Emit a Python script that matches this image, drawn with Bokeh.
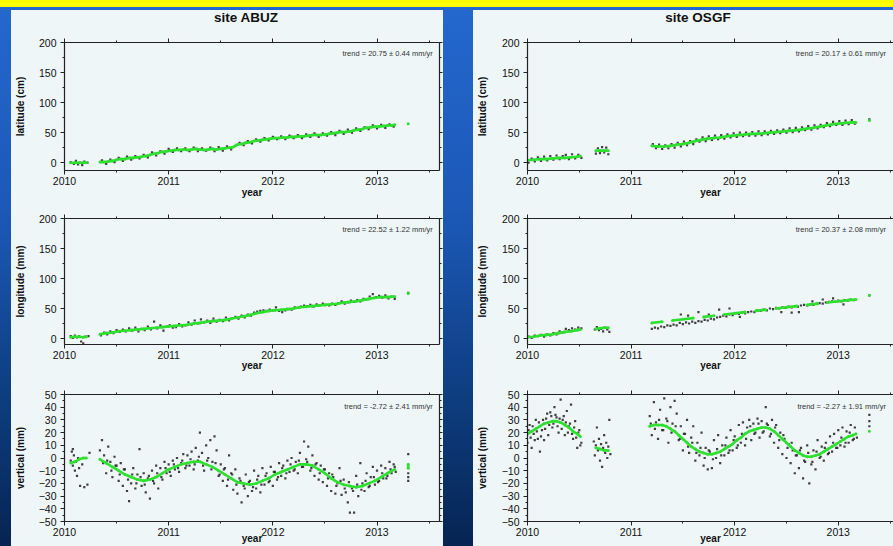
from bokeh.plotting import figure
from bokeh.layouts import column, row
from bokeh.models import Spacer, Label, LinearAxis, SingleIntervalTicker, Range1d, Div
from bokeh.embed import file_html
from bokeh.resources import INLINE

# ---------------- data (decimal year, value) ----------------
sites = ["site ABUZ", "site OSGF"]
trend_texts = {
    ("ABUZ", "lat"): "trend = 20.75 \u00b1 0.44 mm/yr",
    ("ABUZ", "lon"): "trend = 22.52 \u00b1 1.22 mm/yr",
    ("ABUZ", "up"): "trend = -2.72 \u00b1 2.41 mm/yr",
    ("OSGF", "lat"): "trend = 20.17 \u00b1 0.61 mm/yr",
    ("OSGF", "lon"): "trend = 20.37 \u00b1 2.08 mm/yr",
    ("OSGF", "up"): "trend = -2.27 \u00b1 1.91 mm/yr",
}

# ABUZ latitude (cm)
abuz_lat_fit_t = [2010.06, 2010.10, 2010.14, 2010.18, 2010.21,
    2010.34, 2010.38, 2010.42, 2010.46, 2010.50, 2010.54, 2010.58, 2010.62, 2010.66, 2010.70, 2010.74, 2010.78,
    2010.82, 2010.86, 2010.90, 2010.94, 2010.98, 2011.02, 2011.06, 2011.10, 2011.14, 2011.18, 2011.22, 2011.26,
    2011.30, 2011.34, 2011.38, 2011.42, 2011.46, 2011.50, 2011.54, 2011.58, 2011.62, 2011.66, 2011.70, 2011.74,
    2011.78, 2011.82, 2011.86, 2011.90, 2011.94, 2011.98, 2012.02, 2012.06, 2012.10, 2012.14, 2012.18, 2012.22,
    2012.26, 2012.30, 2012.34, 2012.38, 2012.42, 2012.46, 2012.50, 2012.54, 2012.58, 2012.62, 2012.66, 2012.70,
    2012.74, 2012.78, 2012.82, 2012.86, 2012.90, 2012.94, 2012.98, 2013.02, 2013.06, 2013.10, 2013.14, 2013.17,
    2013.30]
abuz_lat_fit_y = [0, 0, 0, 0, 0,
    1, 1, 2, 3, 5, 6, 6, 8, 8, 9, 10, 11,
    13, 15, 16, 18, 19, 20, 21, 21, 22, 21, 22, 23,
    22, 21, 22, 23, 22, 23, 24, 25, 26, 30, 31, 33,
    34, 36, 37, 38, 39, 40, 41, 41, 42, 42, 43, 43,
    44, 44, 45, 46, 46, 46, 47, 48, 49, 50, 51, 51,
    52, 54, 55, 56, 58, 59, 60, 60, 61, 62, 62, 63,
    65]
abuz_lat_obs_t = [2010.06, 2010.09, 2010.11, 2010.13, 2010.15, 2010.17, 2010.19, 2010.22,
    2010.36, 2010.40, 2010.44, 2010.48, 2010.52, 2010.56, 2010.60, 2010.64, 2010.68, 2010.72, 2010.76, 2010.80,
    2010.84, 2010.88, 2010.92, 2010.96, 2011.00, 2011.04, 2011.08, 2011.12, 2011.16, 2011.20, 2011.24, 2011.28,
    2011.32, 2011.36, 2011.40, 2011.44, 2011.48, 2011.52, 2011.56, 2011.60, 2011.64, 2011.68, 2011.72, 2011.76,
    2011.80, 2011.84, 2011.88, 2011.92, 2011.96, 2012.00, 2012.04, 2012.08, 2012.12, 2012.16, 2012.20, 2012.24,
    2012.28, 2012.32, 2012.36, 2012.40, 2012.44, 2012.48, 2012.52, 2012.56, 2012.60, 2012.64, 2012.68, 2012.72,
    2012.76, 2012.80, 2012.84, 2012.88, 2012.92, 2012.96, 2013.00, 2013.04, 2013.08, 2013.12, 2013.16]
abuz_lat_obs_y = [1, -2, 3, -3, 0, -4, 2, 0,
    4, -2, 5, 1, 8, 3, 10, 5, 11, 7, 13, 9,
    17, 12, 19, 15, 23, 18, 24, 19, 24, 19, 25, 19,
    24, 20, 25, 19, 26, 20, 27, 22, 28, 33, 29, 36,
    32, 39, 35, 41, 37, 43, 39, 44, 39, 45, 41, 46,
    41, 47, 43, 49, 43, 49, 45, 51, 46, 53, 48, 55,
    50, 57, 53, 59, 56, 62, 57, 63, 58, 64, 60]

# ABUZ longitude (mm)
abuz_lon_fit_t = [2010.06, 2010.10, 2010.14, 2010.18, 2010.21,
    2010.34, 2010.40, 2010.46, 2010.52, 2010.58, 2010.64, 2010.70, 2010.76, 2010.82, 2010.88, 2010.94, 2011.00,
    2011.06, 2011.12, 2011.18, 2011.24, 2011.30, 2011.36, 2011.42, 2011.48, 2011.54, 2011.60, 2011.66, 2011.72,
    2011.78, 2011.84, 2011.90, 2011.96, 2012.02, 2012.08, 2012.14, 2012.20, 2012.26, 2012.32, 2012.38, 2012.44,
    2012.50, 2012.56, 2012.62, 2012.68, 2012.74, 2012.80, 2012.86, 2012.92, 2012.98, 2013.04, 2013.10, 2013.17,
    2013.30]
abuz_lon_fit_y = [2, 3, 3, 2, 3,
    7, 9, 10, 12, 13, 14, 15, 16, 17, 18, 19, 20,
    21, 22, 23, 25, 26, 28, 29, 30, 31, 33, 35, 37,
    39, 42, 44, 46, 47, 48, 49, 50, 52, 53, 54, 55,
    56, 57, 58, 60, 61, 62, 64, 66, 68, 69, 69, 70,
    75]
abuz_lon_obs_t = [2010.06, 2010.08, 2010.10, 2010.12, 2010.14, 2010.16, 2010.18, 2010.20, 2010.23,
    2010.35, 2010.38, 2010.41, 2010.44, 2010.47, 2010.50, 2010.53, 2010.56, 2010.59, 2010.62, 2010.65, 2010.68,
    2010.71, 2010.74, 2010.77, 2010.80, 2010.83, 2010.86, 2010.89, 2010.92, 2010.95, 2010.98, 2011.01, 2011.04,
    2011.07, 2011.10, 2011.13, 2011.16, 2011.19, 2011.22, 2011.25, 2011.28, 2011.31, 2011.34, 2011.37, 2011.40,
    2011.43, 2011.46, 2011.49, 2011.52, 2011.55, 2011.58, 2011.61, 2011.64, 2011.67, 2011.70, 2011.73, 2011.76,
    2011.79, 2011.82, 2011.85, 2011.88, 2011.91, 2011.94, 2011.97, 2012.00, 2012.03, 2012.06, 2012.09, 2012.12,
    2012.15, 2012.18, 2012.21, 2012.24, 2012.27, 2012.30, 2012.33, 2012.36, 2012.39, 2012.42, 2012.45, 2012.48,
    2012.51, 2012.54, 2012.57, 2012.60, 2012.63, 2012.66, 2012.69, 2012.72, 2012.75, 2012.78, 2012.81, 2012.84,
    2012.87, 2012.90, 2012.93, 2012.96, 2012.99, 2013.02, 2013.05, 2013.08, 2013.11, 2013.14, 2013.17, 2013.30]
abuz_lon_obs_y = [4, 1, 5, 2, 4, -5, -8, 3, 4,
    5, 10, 7, 12, 9, 14, 11, 15, 12, 17, 13, 18,
    12, 16, 14, 20, 15, 28, 17, 22, 13, 20, 22, 18,
    19, 24, 20, 22, 27, 23, 30, 25, 32, 27, 30, 26,
    33, 28, 31, 29, 35, 30, 34, 36, 33, 38, 35, 40,
    38, 43, 45, 46, 47, 46, 48, 47, 52, 46, 44, 47,
    49, 48, 52, 51, 53, 55, 54, 56, 53, 57, 55, 58,
    56, 55, 58, 56, 59, 62, 58, 60, 63, 61, 64, 62,
    66, 65, 70, 74, 69, 71, 68, 72, 67, 70, 66, 76]

# ABUZ vertical (mm)
abuz_up_fit_t = [2010.06, 2010.10, 2010.14, 2010.18, 2010.21,
    2010.34, 2010.40, 2010.46, 2010.52, 2010.58, 2010.64, 2010.70, 2010.76, 2010.82, 2010.88, 2010.94, 2011.00,
    2011.06, 2011.12, 2011.18, 2011.24, 2011.30, 2011.36, 2011.42, 2011.48, 2011.54, 2011.60, 2011.66, 2011.72,
    2011.78, 2011.84, 2011.90, 2011.96, 2012.02, 2012.08, 2012.14, 2012.20, 2012.26, 2012.32, 2012.38, 2012.44,
    2012.50, 2012.56, 2012.62, 2012.68, 2012.74, 2012.80, 2012.86, 2012.92, 2012.98, 2013.04, 2013.10, 2013.17,
    2013.30, 2013.30]
abuz_up_fit_y = [-4, -3, -1, 0, 0,
    -1, -4, -7, -10, -13, -15, -17, -18, -17, -15, -12, -9,
    -7, -5, -4, -3, -3, -5, -7, -10, -13, -16, -19, -20,
    -21, -20, -18, -16, -13, -11, -9, -7, -5, -5, -6, -9,
    -12, -16, -19, -21, -22, -23, -22, -20, -18, -15, -12, -9,
    -5, -8]
abuz_up_obs_t = [2010.06, 2010.07, 2010.08, 2010.08, 2010.09, 2010.10, 2010.11, 2010.12, 2010.13, 2010.14,
    2010.15, 2010.17, 2010.19, 2010.22, 2010.24,
    2010.34, 2010.36, 2010.38, 2010.40, 2010.42, 2010.44, 2010.46, 2010.48, 2010.50, 2010.52, 2010.54, 2010.56,
    2010.58, 2010.60, 2010.62, 2010.64, 2010.66, 2010.68, 2010.70, 2010.72, 2010.74, 2010.76, 2010.78, 2010.80,
    2010.82, 2010.84, 2010.86, 2010.88, 2010.90, 2010.92, 2010.94, 2010.96, 2010.98, 2011.00, 2011.02, 2011.04,
    2011.06, 2011.08, 2011.10, 2011.12, 2011.14, 2011.16, 2011.18, 2011.20, 2011.22, 2011.24, 2011.26, 2011.28,
    2011.30, 2011.32, 2011.34, 2011.36, 2011.38, 2011.40, 2011.42, 2011.44, 2011.46, 2011.48, 2011.50, 2011.52,
    2011.54, 2011.56, 2011.58, 2011.60, 2011.62, 2011.64, 2011.66, 2011.68, 2011.70, 2011.72, 2011.74, 2011.76,
    2011.78, 2011.80, 2011.82, 2011.84, 2011.86, 2011.88, 2011.90, 2011.92, 2011.94, 2011.96, 2011.98, 2012.00,
    2012.02, 2012.04, 2012.06, 2012.08, 2012.10, 2012.12, 2012.14, 2012.16, 2012.18, 2012.20, 2012.22, 2012.24,
    2012.26, 2012.28, 2012.30, 2012.32, 2012.34, 2012.36, 2012.38, 2012.40, 2012.42, 2012.44, 2012.46, 2012.48,
    2012.50, 2012.52, 2012.54, 2012.56, 2012.58, 2012.60, 2012.62, 2012.64, 2012.66, 2012.68, 2012.70, 2012.72,
    2012.74, 2012.76, 2012.78, 2012.80, 2012.82, 2012.84, 2012.86, 2012.88, 2012.90, 2012.92, 2012.94, 2012.96,
    2012.98, 2013.00, 2013.02, 2013.04, 2013.06, 2013.08, 2013.10, 2013.12, 2013.14, 2013.16, 2013.18,
    2010.37, 2010.41, 2010.45, 2010.49, 2010.53, 2010.57, 2010.61, 2010.65, 2010.69, 2010.73, 2010.77, 2010.81,
    2010.85, 2010.89, 2010.93, 2010.97, 2011.01, 2011.05, 2011.09, 2011.13, 2011.17, 2011.21, 2011.25, 2011.29,
    2011.33, 2011.37, 2011.41, 2011.45, 2011.49, 2011.53, 2011.57, 2011.61, 2011.65, 2011.69, 2011.73, 2011.77,
    2011.81, 2011.85, 2011.89, 2011.93, 2011.97, 2012.01, 2012.05, 2012.09, 2012.13, 2012.17, 2012.21, 2012.25,
    2012.29, 2012.33, 2012.37, 2012.41, 2012.45, 2012.49, 2012.53, 2012.57, 2012.61, 2012.65, 2012.69, 2012.73,
    2012.77, 2012.81, 2012.85, 2012.89, 2012.93, 2012.97, 2013.01, 2013.05, 2013.09, 2013.13, 2013.17,
    2013.30, 2013.30, 2013.30, 2013.30]
abuz_up_obs_y = [-2, 5, -6, 7, 2, -10, -3, -14, 0, -8,
    -22, -5, -23, -21, 4,
    6, 14, 2, -12, 9, -3, -15, 1, -6, -18, -4, -22,
    -9, -26, -34, -20, -8, -24, -13, 7, -22, -12, -27, -16,
    -32, -10, -20, -6, -24, -8, -17, -3, -12, -5, -14, -2,
    -9, 0, -11, -4, 3, -8, 2, -6, 5, -9, 8, -2,
    20, 4, -10, 10, 0, 14, -3, 17, 6, -14, -5, -18,
    -8, -22, 2, -12, -25, -9, -28, -16, -35, -22, -13, -30,
    -18, -26, -10, -24, -14, -27, -8, -21, -12, -19, -7, -22,
    -11, -17, -4, -14, -6, -16, -2, -11, 0, -10, -3, -12,
    4, -7, 13, -1, 9, -10, 2, -14, -4, -17, -6, -19,
    -9, -22, -12, -26, -15, -28, -20, -8, -29, -17, -27, -35,
    -43, -24, -43, -14, -30, -4, -20, -26, -12, -23, -15, -7,
    -21, -10, -18, -6, -16, -8, -14, -3, -12, -5, -11,
    -4, -2, -10, -6, -13, -9, -17, -13, -20, -15, -21, -14,
    -18, -12, -15, -8, -11, -5, -8, -2, -6, -1, -5, 1,
    -6, -2, -9, -4, -13, -9, -17, -13, -21, -18, -24, -19,
    -23, -17, -21, -14, -18, -11, -15, -8, -12, -5, -9, -2,
    -7, -3, -8, -5, -12, -9, -16, -13, -22, -18, -24, -19,
    -26, -21, -25, -18, -22, -15, -19, -12, -16, -9, -7,
    3, -12, -18, -15]

# OSGF latitude (cm)
osgf_lat_fit_t = [2010.00, 2010.06, 2010.12, 2010.18, 2010.24, 2010.30, 2010.36, 2010.42, 2010.48, 2010.51,
    2010.66, 2010.70, 2010.74, 2010.78,
    2011.20, 2011.26, 2011.32, 2011.38, 2011.44, 2011.50, 2011.56, 2011.62, 2011.68, 2011.74, 2011.80, 2011.86,
    2011.92, 2011.98, 2012.04, 2012.10, 2012.16, 2012.22, 2012.28, 2012.34, 2012.40, 2012.46, 2012.52, 2012.58,
    2012.64, 2012.70, 2012.76, 2012.82, 2012.88, 2012.94, 2013.00, 2013.06, 2013.12, 2013.17,
    2013.30]
osgf_lat_fit_y = [4, 5, 6, 6, 7, 8, 8, 9, 10, 11,
    20, 20, 20, 20,
    28, 27, 27, 28, 30, 31, 33, 36, 38, 40, 41, 42,
    44, 45, 46, 47, 48, 48, 49, 50, 51, 52, 53, 54,
    55, 57, 58, 60, 62, 64, 65, 66, 67, 67,
    70]
osgf_lat_obs_t = [2010.01, 2010.04, 2010.07, 2010.10, 2010.13, 2010.16, 2010.19, 2010.22, 2010.25, 2010.28,
    2010.31, 2010.34, 2010.37, 2010.40, 2010.43, 2010.46, 2010.49, 2010.52,
    2010.66, 2010.68, 2010.70, 2010.72, 2010.74, 2010.76, 2010.78,
    2011.21, 2011.24, 2011.27, 2011.30, 2011.33, 2011.36, 2011.39, 2011.42, 2011.45, 2011.48, 2011.51, 2011.54,
    2011.57, 2011.60, 2011.63, 2011.66, 2011.69, 2011.72, 2011.75, 2011.78, 2011.81, 2011.84, 2011.87, 2011.90,
    2011.93, 2011.96, 2011.99, 2012.02, 2012.05, 2012.08, 2012.11, 2012.14, 2012.17, 2012.20, 2012.23, 2012.26,
    2012.29, 2012.32, 2012.35, 2012.38, 2012.41, 2012.44, 2012.47, 2012.50, 2012.53, 2012.56, 2012.59, 2012.62,
    2012.65, 2012.68, 2012.71, 2012.74, 2012.77, 2012.80, 2012.83, 2012.86, 2012.89, 2012.92, 2012.95, 2012.98,
    2013.01, 2013.04, 2013.07, 2013.10, 2013.13, 2013.16, 2013.30]
osgf_lat_obs_y = [0, 7, 2, 9, 3, 10, 4, 11, 5, 12,
    6, 11, 13, 6, 14, 7, 13, 8,
    15, 24, 16, 26, 17, 25, 14,
    31, 24, 30, 23, 29, 24, 31, 25, 33, 27, 35, 29,
    36, 31, 39, 35, 42, 36, 44, 38, 45, 39, 46, 40,
    47, 42, 49, 43, 50, 44, 50, 45, 51, 45, 52, 46,
    52, 47, 53, 48, 54, 49, 55, 50, 57, 51, 58, 52,
    59, 54, 61, 55, 62, 57, 63, 59, 66, 61, 68, 63,
    69, 63, 70, 64, 71, 65, 72]

# OSGF longitude (mm)
osgf_lon_fit_t = [2010.00, 2010.06, 2010.12, 2010.18, 2010.24, 2010.30, 2010.36, 2010.42, 2010.48, 2010.51,
    2010.66, 2010.70, 2010.74, 2010.78,
    2011.20, 2011.30, 2011.40, 2011.50, 2011.60, 2011.70, 2011.80, 2011.90, 2012.00, 2012.10, 2012.20, 2012.30,
    2012.40, 2012.50, 2012.60, 2012.70, 2012.80, 2012.90, 2013.00, 2013.10, 2013.17,
    2013.30]
osgf_lon_fit_y = [2, 3, 5, 6, 7, 9, 11, 12, 14, 15,
    16, 17, 18, 18,
    26, 28, 30, 32, 34, 36, 38, 40, 42, 44, 46, 48,
    50, 52, 54, 56, 58, 60, 62, 64, 65,
    72]
osgf_lon_obs_t = [2010.01, 2010.04, 2010.07, 2010.10, 2010.13, 2010.16, 2010.19, 2010.22, 2010.25, 2010.28,
    2010.31, 2010.34, 2010.37, 2010.40, 2010.43, 2010.46, 2010.49, 2010.52,
    2010.65, 2010.67, 2010.69, 2010.71, 2010.73, 2010.75, 2010.77, 2010.79,
    2011.20, 2011.23, 2011.26, 2011.29, 2011.32, 2011.35, 2011.38, 2011.41, 2011.44, 2011.47, 2011.50, 2011.53,
    2011.56, 2011.59, 2011.62, 2011.65, 2011.68, 2011.71, 2011.74, 2011.77, 2011.80, 2011.83, 2011.86, 2011.89,
    2011.92, 2011.95, 2011.98, 2012.01, 2012.04, 2012.07, 2012.10, 2012.13, 2012.16, 2012.19, 2012.22, 2012.25,
    2012.28, 2012.31, 2012.34, 2012.37, 2012.40, 2012.43, 2012.46, 2012.49, 2012.52, 2012.55, 2012.58, 2012.61,
    2012.64, 2012.67, 2012.70, 2012.73, 2012.76, 2012.79, 2012.82, 2012.85, 2012.88, 2012.91, 2012.94, 2012.97,
    2013.00, 2013.03, 2013.06, 2013.09, 2013.12, 2013.15,
    2011.48, 2011.55, 2011.65, 2011.75, 2011.85, 2011.95, 2012.05, 2012.45, 2012.55, 2012.62, 2012.75, 2012.85,
    2012.95, 2013.05, 2013.30]
osgf_lon_obs_y = [3, 1, 5, 4, 6, 3, 7, 5, 9, 7,
    12, 10, 16, 14, 17, 15, 18, 17,
    15, 19, 14, 16, 12, 18, 15, 11,
    16, 18, 17, 20, 19, 22, 21, 23, 22, 26, 24, 27,
    25, 28, 26, 29, 28, 31, 30, 33, 32, 35, 36, 38,
    37, 40, 39, 42, 41, 43, 42, 44, 45, 44, 47, 46,
    48, 47, 50, 49, 51, 50, 52, 51, 53, 52, 54, 53,
    55, 56, 55, 57, 56, 58, 59, 58, 60, 61, 62, 61,
    63, 62, 64, 63, 65, 64,
    40, 38, 44, 40, 48, 50, 36, 44, 43, 44, 62, 65,
    67, 57, 72]

# OSGF vertical (mm)
osgf_up_fit_t = [2010.00, 2010.04, 2010.08, 2010.12, 2010.16, 2010.20, 2010.24, 2010.28, 2010.32, 2010.36,
    2010.40, 2010.44, 2010.48, 2010.51,
    2010.66, 2010.70, 2010.74, 2010.78,
    2011.18, 2011.22, 2011.26, 2011.30, 2011.34, 2011.38, 2011.42, 2011.46, 2011.50, 2011.54, 2011.58, 2011.62,
    2011.66, 2011.70, 2011.74, 2011.78, 2011.82, 2011.86, 2011.90, 2011.94, 2011.98, 2012.02, 2012.06, 2012.10,
    2012.14, 2012.18, 2012.22, 2012.26, 2012.30, 2012.34, 2012.38, 2012.42, 2012.46, 2012.50, 2012.54, 2012.58,
    2012.62, 2012.66, 2012.70, 2012.74, 2012.78, 2012.82, 2012.86, 2012.90, 2012.94, 2012.98, 2013.02, 2013.06,
    2013.10, 2013.14, 2013.17,
    2013.30]
osgf_up_fit_y = [19, 21, 23, 25, 27, 28, 29, 29, 28, 26,
    24, 21, 19, 17,
    8, 7, 6, 6,
    25, 26, 26, 26, 25, 23, 21, 18, 15, 12, 9, 7,
    5, 4, 3, 3, 4, 5, 7, 9, 11, 14, 16, 19,
    21, 22, 23, 24, 24, 23, 21, 18, 15, 12, 9, 6,
    4, 2, 1, 1, 2, 3, 5, 7, 9, 11, 13, 15,
    17, 18, 19,
    21]
osgf_up_obs_t = [2010.00, 2010.02, 2010.04, 2010.06, 2010.08, 2010.10, 2010.12, 2010.14, 2010.16, 2010.18,
    2010.20, 2010.22, 2010.24, 2010.26, 2010.28, 2010.30, 2010.32, 2010.34, 2010.36, 2010.38, 2010.40, 2010.42,
    2010.44, 2010.46, 2010.48, 2010.50, 2010.52,
    2010.01, 2010.03, 2010.05, 2010.07, 2010.09, 2010.11, 2010.13, 2010.15, 2010.17, 2010.19, 2010.21, 2010.23,
    2010.25, 2010.27, 2010.29, 2010.31, 2010.33, 2010.35, 2010.37, 2010.39, 2010.41, 2010.43, 2010.45, 2010.47,
    2010.49, 2010.51,
    2010.64, 2010.65, 2010.66, 2010.67, 2010.68, 2010.69, 2010.70, 2010.71, 2010.72, 2010.73, 2010.74, 2010.75,
    2010.76, 2010.77, 2010.78, 2010.79, 2010.80,
    2011.18, 2011.20, 2011.22, 2011.24, 2011.26, 2011.28, 2011.30, 2011.32, 2011.34, 2011.36, 2011.38, 2011.40,
    2011.42, 2011.44, 2011.46, 2011.48, 2011.50, 2011.52, 2011.54, 2011.56, 2011.58, 2011.60, 2011.62, 2011.64,
    2011.66, 2011.68, 2011.70, 2011.72, 2011.74, 2011.76, 2011.78, 2011.80, 2011.82, 2011.84, 2011.86, 2011.88,
    2011.90, 2011.92, 2011.94, 2011.96, 2011.98, 2012.00, 2012.02, 2012.04, 2012.06, 2012.08, 2012.10, 2012.12,
    2012.14, 2012.16, 2012.18, 2012.20, 2012.22, 2012.24, 2012.26, 2012.28, 2012.30, 2012.32, 2012.34, 2012.36,
    2012.38, 2012.40, 2012.42, 2012.44, 2012.46, 2012.48, 2012.50, 2012.52, 2012.54, 2012.56, 2012.58, 2012.60,
    2012.62, 2012.64, 2012.66, 2012.68, 2012.70, 2012.72, 2012.74, 2012.76, 2012.78, 2012.80, 2012.82, 2012.84,
    2012.86, 2012.88, 2012.90, 2012.92, 2012.94, 2012.96, 2012.98, 2013.00, 2013.02, 2013.04, 2013.06, 2013.08,
    2013.10, 2013.12, 2013.14, 2013.16, 2013.18,
    2011.19, 2011.23, 2011.27, 2011.31, 2011.35, 2011.39, 2011.43, 2011.47, 2011.51, 2011.55, 2011.59, 2011.63,
    2011.67, 2011.71, 2011.75, 2011.79, 2011.83, 2011.87, 2011.91, 2011.95, 2011.99, 2012.03, 2012.07, 2012.11,
    2012.15, 2012.19, 2012.23, 2012.27, 2012.31, 2012.35, 2012.39, 2012.43, 2012.47, 2012.51, 2012.55, 2012.59,
    2012.63, 2012.67, 2012.71, 2012.75, 2012.79, 2012.83, 2012.87, 2012.91, 2012.95, 2012.99, 2013.03, 2013.07,
    2013.11, 2013.15,
    2013.30, 2013.30, 2013.30]
osgf_up_obs_y = [12, 26, 8, 19, 30, 15, 5, 22, 14, 31,
    18, 36, 24, 40, 32, 20, 46, 30, 18, 37, 25, 42,
    15, 29, 8, 22, 12,
    22, 16, 25, 14, 21, 28, 17, 30, 23, 35, 26, 33,
    27, 34, 25, 31, 23, 33, 28, 20, 27, 19, 24, 16,
    20, 10,
    13, 2, 10, 24, 6, 15, -2, 11, -7, 8, 18, 4,
    12, 0, 9, 30, 3,
    33, 18, 44, 28, 15, 38, 22, 47, 31, 12, 40, 27,
    45, 35, 14, 25, 6, 19, 30, 4, 16, 25, -2, 12,
    2, 20, -6, 8, -9, 5, -8, 14, 0, 18, -4, 10,
    2, 16, 4, 22, 6, 17, 8, 26, 12, 28, 10, 24,
    30, 14, 27, 20, 31, 16, 29, 21, 40, 26, 17, 30,
    12, 26, 8, 20, 3, 15, 0, 11, -4, 6, -12, 2,
    -8, 8, -16, -3, 10, -20, -5, 6, -9, 14, 0, 9,
    -2, 12, 3, 17, 5, 19, 8, 22, 10, 24, 9, 21,
    12, 26, 14, 24, 16,
    27, 23, 30, 22, 29, 20, 25, 15, 19, 9, 12, 4,
    8, 0, 6, -1, 7, 2, 10, 6, 14, 10, 19, 15,
    25, 19, 27, 20, 27, 19, 24, 14, 18, 8, 12, 2,
    6, -2, 4, -3, 5, 1, 8, 4, 12, 8, 16, 12,
    20, 15,
    34, 29, 25]

panels = {
    "ABUZ": [
        ("lat", "latitude (cm)", abuz_lat_obs_t, abuz_lat_obs_y, abuz_lat_fit_t, abuz_lat_fit_y),
        ("lon", "longitude (mm)", abuz_lon_obs_t, abuz_lon_obs_y, abuz_lon_fit_t, abuz_lon_fit_y),
        ("up", "vertical (mm)", abuz_up_obs_t, abuz_up_obs_y, abuz_up_fit_t, abuz_up_fit_y),
    ],
    "OSGF": [
        ("lat", "latitude (cm)", osgf_lat_obs_t, osgf_lat_obs_y, osgf_lat_fit_t, osgf_lat_fit_y),
        ("lon", "longitude (mm)", osgf_lon_obs_t, osgf_lon_obs_y, osgf_lon_fit_t, osgf_lon_fit_y),
        ("up", "vertical (mm)", osgf_up_obs_t, osgf_up_obs_y, osgf_up_fit_t, osgf_up_fit_y),
    ],
}

# ---------------- styling ----------------
FONT = "Liberation Sans"
PANEL_BG = "#eef6f8"
GREEN = "#30e030"
DOT = "#2b2b2b"


def segments(t, y, gap=0.1):
    xs, ys = [[t[0]]], [[y[0]]]
    for i in range(1, len(t)):
        if t[i] - t[i - 1] > gap:
            xs.append([])
            ys.append([])
        xs[-1].append(t[i])
        ys[-1].append(y[i])
    return xs, ys


def style_axis(ax, labels=True, standoff=2):
    ax.axis_line_color = "#222222"
    ax.axis_line_width = 1.2
    ax.major_tick_line_color = "#222222"
    ax.minor_tick_line_color = "#222222"
    ax.major_tick_out = 4
    ax.major_tick_in = 0
    ax.minor_tick_out = 2
    ax.minor_tick_in = 0
    if labels:
        ax.major_label_text_font = FONT
        ax.major_label_text_font_size = "10.5px"
        ax.major_label_text_color = "#111111"
        ax.major_label_standoff = standoff
        ax.axis_label_text_font = FONT
        ax.axis_label_text_font_style = "bold"
        ax.axis_label_text_font_size = "10px"
        ax.axis_label_text_color = "#111111"
    else:
        # tick marks only: labels are not painted
        ax.major_label_text_color = None
        ax.major_label_text_font_size = "1px"
        ax.major_label_standoff = 0


def make_fig(site, idx, spec, is_left):
    kind, ylabel, ot, oy, ft, fy = spec
    heights = [177, 170, 173]
    tops = [16, 15, 21]
    bottoms = [33, 28, 24]
    xlab_standoff = [-1, -2, -6]
    if is_left:
        width, bl, br, xend = 432, 48, 4, 2013.6
        ylab_standoff = 10
        tx = xend - 0.065
    else:
        width, bl, br, xend = 420, 49, 0, 2013.533
        ylab_standoff = 11
        tx = 2013.46
    if kind == "up":
        yr = Range1d(-50, 50)
        yint, tsy = 10, 44
    elif kind == "lat":
        yr = Range1d(-13, 200)
        yint, tsy = 50, 189
    else:
        yr = Range1d(-10, 200)
        yint, tsy = 50, 189

    p = figure(width=width, height=heights[idx], x_range=Range1d(2010, xend), y_range=yr,
               output_backend="svg", toolbar_location=None,
               x_axis_location=None, y_axis_location=None,
               min_border_left=bl, min_border_right=br,
               min_border_top=tops[idx], min_border_bottom=bottoms[idx],
               background_fill_color=PANEL_BG, border_fill_color=PANEL_BG,
               outline_line_color=None)
    p.grid.visible = False

    xa = LinearAxis(ticker=SingleIntervalTicker(interval=1, num_minor_ticks=2), axis_label="year")
    style_axis(xa, standoff=2)
    xa.axis_label_standoff = xlab_standoff[idx]
    p.add_layout(xa, "below")

    ya = LinearAxis(ticker=SingleIntervalTicker(interval=yint, num_minor_ticks=2), axis_label=ylabel)
    style_axis(ya, standoff=4)
    ya.axis_label_standoff = ylab_standoff
    p.add_layout(ya, "left")

    ta = LinearAxis(ticker=SingleIntervalTicker(interval=1, num_minor_ticks=2))
    style_axis(ta, labels=False)
    p.add_layout(ta, "above")

    if is_left:
        ra = LinearAxis(ticker=SingleIntervalTicker(interval=yint, num_minor_ticks=2))
        style_axis(ra, labels=False)
        ra.major_tick_out = 3
        p.add_layout(ra, "right")

    # observations
    p.scatter(ot, oy, size=2.2, marker="square", color=DOT, line_color=None, alpha=0.9)
    # fitted model
    xs, ys = segments(ft, fy)
    p.multi_line(xs, ys, line_color=GREEN, line_width=2.6)
    p.scatter(ft, fy, size=3.0, color=GREEN, line_color=None)

    code = site.split()[1]
    txt = trend_texts[(code, kind)]
    p.add_layout(Label(x=tx, y=tsy, text=txt,
                       text_align="right", text_baseline="top",
                       text_font=FONT, text_font_size="7.5px", text_color="#333333"))
    return p


def title_div(site, width, pad_left):
    html = (f'<div style="width:{width - pad_left}px;margin-left:{pad_left}px;text-align:center;'
            f'font-family:\'{FONT}\';font-weight:bold;font-size:13.5px;line-height:16px;'
            f'color:#111111;white-space:nowrap">{site}</div>')
    return Div(text=html, width=width, height=16, margin=(0, 0, 0, 0))


cols = []
for s_i, site in enumerate(sites):
    code = site.split()[1]
    is_left = s_i == 0
    w = 432 if is_left else 420
    pad = 38 if is_left else 30
    figs = [make_fig(site, i, spec, is_left) for i, spec in enumerate(panels[code])]
    cols.append(column(title_div(site, w, pad), *figs, styles={"background-color": PANEL_BG}))

root = column(
    Spacer(width=893, height=7, styles={"background-color": "#ffff00"}),
    Spacer(width=893, height=3),
    row(Spacer(width=11, height=536), cols[0], Spacer(width=30, height=536), cols[1]),
    width=893, height=546,
    styles={"background": "linear-gradient(to bottom, #2468cf 0%, #1b58b6 40%, #0d3b7c 75%, #062452 100%)"},
)

open("out.html", "w").write(file_html(root, INLINE))
